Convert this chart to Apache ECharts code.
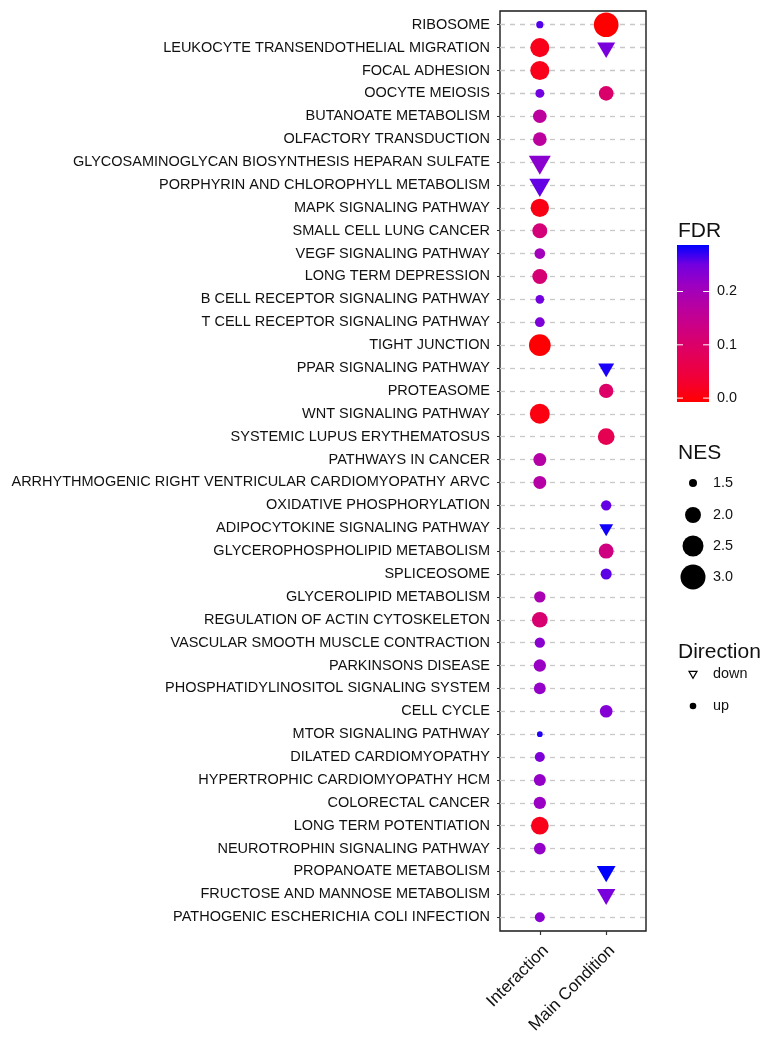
<!DOCTYPE html>
<html><head><meta charset="utf-8">
<script src="https://cdn.jsdelivr.net/npm/echarts@6/dist/echarts.min.js"></script>
<style>html,body{margin:0;padding:0;background:#fff}#c{width:779px;height:1050px}</style>
</head><body><div id="c"></div>
<script>
const pathways = [
'RIBOSOME','LEUKOCYTE TRANSENDOTHELIAL MIGRATION','FOCAL ADHESION','OOCYTE MEIOSIS','BUTANOATE METABOLISM',
'OLFACTORY TRANSDUCTION','GLYCOSAMINOGLYCAN BIOSYNTHESIS HEPARAN SULFATE','PORPHYRIN AND CHLOROPHYLL METABOLISM',
'MAPK SIGNALING PATHWAY','SMALL CELL LUNG CANCER','VEGF SIGNALING PATHWAY','LONG TERM DEPRESSION',
'B CELL RECEPTOR SIGNALING PATHWAY','T CELL RECEPTOR SIGNALING PATHWAY','TIGHT JUNCTION','PPAR SIGNALING PATHWAY',
'PROTEASOME','WNT SIGNALING PATHWAY','SYSTEMIC LUPUS ERYTHEMATOSUS','PATHWAYS IN CANCER',
'ARRHYTHMOGENIC RIGHT VENTRICULAR CARDIOMYOPATHY ARVC','OXIDATIVE PHOSPHORYLATION','ADIPOCYTOKINE SIGNALING PATHWAY',
'GLYCEROPHOSPHOLIPID METABOLISM','SPLICEOSOME','GLYCEROLIPID METABOLISM','REGULATION OF ACTIN CYTOSKELETON',
'VASCULAR SMOOTH MUSCLE CONTRACTION','PARKINSONS DISEASE','PHOSPHATIDYLINOSITOL SIGNALING SYSTEM','CELL CYCLE',
'MTOR SIGNALING PATHWAY','DILATED CARDIOMYOPATHY','HYPERTROPHIC CARDIOMYOPATHY HCM','COLORECTAL CANCER',
'LONG TERM POTENTIATION','NEUROTROPHIN SIGNALING PATHWAY','PROPANOATE METABOLISM','FRUCTOSE AND MANNOSE METABOLISM',
'PATHOGENIC ESCHERICHIA COLI INFECTION'];
const conditions = ['Interaction', 'Main Condition'];

// Interaction column (null = no point)
const interactionNES = [1.47,2.29,2.29,1.54,1.82,1.82,2.03,1.97,2.22,1.92,1.63,1.92,1.53,1.58,2.58,null,null,2.39,null,1.77,
  1.77,null,null,null,null,1.67,1.98,1.61,1.73,1.70,null,1.42,1.59,1.71,1.73,2.16,1.69,null,null,1.59];
const interactionFDR = [0.255,0.02,0.02,0.245,0.165,0.165,0.225,0.25,0.015,0.12,0.2,0.115,0.245,0.235,0.002,null,null,0.012,null,0.175,
  0.175,null,null,null,null,0.19,0.11,0.225,0.21,0.215,null,0.27,0.235,0.215,0.21,0.02,0.215,null,null,0.225];
const interactionDir = ['up','up','up','up','up','up','down','down','up','up','up','up','up','up','up',null,null,'up',null,'up',
  'up',null,null,null,null,'up','up','up','up','up',null,'up','up','up','up','up','up',null,null,'up'];

// Main Condition column
const mainNES = [2.96,1.80,null,1.90,null,null,null,null,null,null,null,null,null,null,null,1.70,1.87,null,2.07,null,
  null,1.61,1.61,1.92,1.65,null,null,null,null,null,1.75,null,null,null,null,null,null,1.84,1.82,null];
const mainFDR = [0.0,0.24,null,0.105,null,null,null,null,null,null,null,null,null,null,null,0.272,0.1,null,0.075,null,
  null,0.25,0.275,0.13,0.252,null,null,null,null,null,0.23,null,null,null,null,null,null,0.28,0.24,null];
const mainDir = ['up','down',null,'up',null,null,null,null,null,null,null,null,null,null,null,'down','up',null,'up',null,
  null,'up','down','up','up',null,null,null,null,null,'up',null,null,null,null,null,null,'down','down',null];

const fdrBreaks = [0.0, 0.1, 0.2];
const fdrMax = 0.28;
const nesBreaks = [1.5, 2.0, 2.5, 3.0];
const directionLevels = ['down', 'up'];

const gradColors = ['#FF0000','#F40030','#E8004E','#DA006B','#C90089','#B500A5','#9A00C3','#7300E0','#0000FF'];
const FONT = "'Liberation Sans', Arial, Helvetica, sans-serif";

function diam(nes) { return 0.67 + 18.93 * Math.sqrt(Math.max(nes - 1.35, 0)); }

const upData = [], downData = [];
function addCol(ci, nes, fdr, dir) {
  for (let i = 0; i < pathways.length; i++) {
    if (nes[i] == null) continue;
    const d = diam(nes[i]);
    if (dir[i] === 'down') {
      const w = d * 1.347, h = w * 0.866;
      downData.push({ value: [ci, i, nes[i], fdr[i]], symbolSize: [w, h], symbolOffset: [0, h / 6] });
    } else {
      upData.push({ value: [ci, i, nes[i], fdr[i]], symbolSize: d });
    }
  }
}
addCol(0, interactionNES, interactionFDR, interactionDir);
addCol(1, mainNES, mainFDR, mainDir);

const chart = echarts.init(document.getElementById('c'), null, { renderer: 'canvas' });

// legend graphics
const g = [];
const txt = (x, y, t, size) => ({ type: 'text', x: x, y: y, silent: true,
  style: { text: t, fontSize: size, fontFamily: FONT, fill: '#111', textAlign: 'left', textVerticalAlign: 'middle' } });
// FDR colorbar
const barX = 677, barY = 245, barW = 32, barH = 157, pad = 3.9;
g.push(txt(678, 231, 'FDR', 21));
g.push({ type: 'rect', shape: { x: barX, y: barY, width: barW, height: barH }, silent: true,
  style: { fill: new echarts.graphic.LinearGradient(0, 1, 0, 0, gradColors.map((c, k) => ({ offset: k / (gradColors.length - 1), color: c }))) } });
fdrBreaks.forEach(v => {
  const y = barY + barH - pad - (v / fdrMax) * (barH - 2 * pad);
  g.push({ type: 'line', shape: { x1: barX, y1: y, x2: barX + 6, y2: y }, style: { stroke: '#fff', lineWidth: 1 }, silent: true });
  g.push({ type: 'line', shape: { x1: barX + barW - 6, y1: y, x2: barX + barW, y2: y }, style: { stroke: '#fff', lineWidth: 1 }, silent: true });
  g.push(txt(717, y, v.toFixed(1), 14.4));
});
// NES legend
g.push(txt(678, 453, 'NES', 21));
const nesY = [483, 515, 546, 577];
nesBreaks.forEach((v, k) => {
  g.push({ type: 'circle', shape: { cx: 693, cy: nesY[k], r: diam(v) / 2 }, style: { fill: '#000' }, silent: true });
  g.push(txt(713, nesY[k], v.toFixed(1), 14.4));
});
// Direction legend
g.push(txt(678, 652, 'Direction', 21));
const dirY = [674, 706];
directionLevels.forEach((lv, k) => {
  const y = dirY[k];
  if (lv === 'down') {
    g.push({ type: 'polygon', shape: { points: [[689, y - 2.6], [697, y - 2.6], [693, y + 4.3]] },
      style: { fill: 'none', stroke: '#000', lineWidth: 1.2 }, silent: true });
  } else {
    g.push({ type: 'circle', shape: { cx: 693, cy: y, r: 3.3 }, style: { fill: '#000' }, silent: true });
  }
  g.push(txt(713, y, lv, 14.4));
});

const yIdx = pathways.map((_, i) => i);

chart.setOption({
  animation: false,
  backgroundColor: '#fff',
  textStyle: { fontFamily: FONT },
  grid: { left: 500, top: 11, width: 146, height: 920, show: true, borderColor: '#1a1a1a', borderWidth: 1.4, backgroundColor: '#fff' },
  xAxis: {
    type: 'value', min: -0.6, max: 1.6,
    axisLine: { show: false, onZero: false },
    axisTick: { show: true, length: 4, lineStyle: { color: '#333', width: 1.2 }, customValues: [0, 1] },
    axisLabel: { customValues: [0, 1], rotate: 45, margin: 11, fontSize: 17, color: '#111', fontFamily: FONT,
      verticalAlign: 'top', formatter: v => conditions[Math.round(v)] },
    splitLine: { show: false }
  },
  yAxis: {
    type: 'value', inverse: true, min: -0.6, max: 39.6,
    axisLine: { show: false, onZero: false },
    axisTick: { show: true, length: 3, lineStyle: { color: '#333', width: 1 }, customValues: yIdx },
    axisLabel: { customValues: yIdx, margin: 10, fontSize: 14.5, color: '#111', fontFamily: FONT,
      formatter: v => pathways[Math.round(v)] },
    splitLine: { show: true, lineStyle: { color: '#C8C8C8', width: 1.3, type: [5, 5] } }
  },
  visualMap: {
    show: false, type: 'continuous', dimension: 3, min: 0, max: fdrMax, seriesIndex: [0, 1],
    inRange: { color: gradColors }
  },
  series: [
    { type: 'scatter', name: 'up', symbol: 'circle', itemStyle: { opacity: 1 }, data: upData },
    { type: 'scatter', name: 'down', symbol: 'path://M0,0L20,0L10,17.32Z', symbolKeepAspect: false, itemStyle: { opacity: 1 }, data: downData }
  ],
  graphic: g
});
</script></body></html>
